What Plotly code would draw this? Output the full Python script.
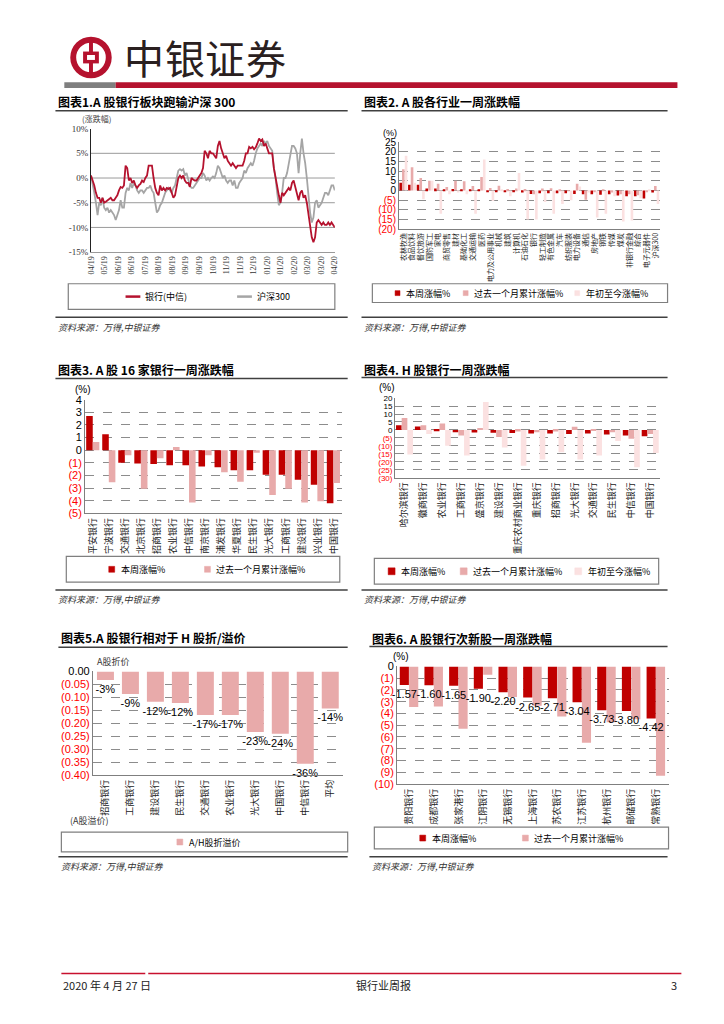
import plotly.graph_objects as go

# page is rendered with an 8px body margin; figure is sized to fit the 724x1024 window
OFF = 8
W, H = 708, 1008
def px(x): return (x - OFF) / W
def py(y): return 1 - (y - OFF) / H

# ---------------- data ----------------
c1_ticklabels = ["04/19","05/19","06/19","06/19","07/19","08/19","08/19","09/19","09/19","10/19",
                 "11/19","11/19","12/19","01/20","01/20","02/20","03/20","03/20","04/20"]
c1_bank = [0.5,-0.5,-1.5,-3,-4,-4,-5,-4,-5,-4.8,-4.5,-4.3,-4,-4.5,-4.5,-4,-3.5,-2.5,-1.8,-2,
           -1.5,2.5,2,-0.5,0,-1,-0.5,-1.5,-2,-1.5,-1.2,-0.5,-0.8,0,0.5,2.5,2.5,2.5,0,-2,
           -3,-3.5,-1.5,-2.5,-2,-2.5,-2,-2.2,-2,-3,-4,-3.5,-2,0,0.5,0,0.5,-0.5,-1,-1,
           -1.8,0,-0.3,-0.5,-0.5,0,0.5,1,2,5.5,5,4,5.5,5,5,4.5,4,6.5,7.5,6,
           5,4,4.5,3.5,3,2.5,3,2.5,2,2.5,2.5,2.5,2.5,3.5,5,5,6.3,6,6.3,5.8,
           6.2,7,8,7.5,7.8,6.5,7,6,5,5,5,2,0,-2,-3.5,-5,-3,-3.5,-3,-2.5,
           -2,-2.5,-1,-0.5,-2,-3,-4.5,-3,-2.5,-4,-3.5,-5,-7.5,-9,-12,-13,-12,-9,-8.5,-9,
           -9.5,-9,-9.5,-9.5,-9,-9.5,-9,-9.5,-10]
c1_hs300 = [0.5,-1,-3,-5,-7.5,-5,-5.5,-4,-6,-6.5,-6,-7,-6.5,-7,-7.5,-8.5,-7.5,-6.5,-4.5,-6,
            -6,-3,-2,-2.5,-1,-2,-1,-1.5,-2.5,-3,-2.5,-2.5,-3,-2.5,-2,-2,-1.5,-2.5,-3,-5,
            -7,-6.5,-5.5,-5,-4,-3,-2.5,-2,-2.5,-3,-2,-1.5,0,1.5,1.8,1.5,1.8,0.5,1,-0.5,
            -1.5,-2,-2,-1.5,-1,-0.5,0,0,1,0.5,-0.5,0,-0.5,0,0.3,0,1,2.5,2,1,
            0,0.5,-0.5,-1,-0.5,-0.5,-1.5,-0.5,-2,-2,-1,-0.5,0,1.5,1,2,2.5,3,2.5,3.5,
            5,6,6.5,7,6.5,7.5,7,7.5,6.5,6,5.5,2,0,-3,-5.5,-5,-3,0,0,1,
            3,5,6.5,6.5,6,5,1,5,8,5,3,0,-4,-7,-9,-8,-5,-4.5,-6,-5.5,
            -5,-4,-3,-3,-3.5,-2.5,-1.5,-1.5,-2.5]

c2_cats = ["农林牧渔","食品饮料","餐饮旅游","国防军工","家电","商贸零售","建材","基础化工","交通运输","医药",
           "电力及公用事业","机械","建筑","计算机","石油石化","银行","轻工制造","有色金属","汽车","纺织服装",
           "电力设备","通信","房地产","钢铁","传媒","煤炭","非银行金融","综合","电子元器件","沪深300"]
c2_week = [4.0,3.0,3.0,1.0,1.0,0.5,0.8,0.3,0.3,0.2,-0.5,-0.7,-0.8,-0.8,-1.0,-1.8,-1.5,-1.5,-1.5,-1.5,
           -1.8,-2.0,-2.0,-2.2,-2.0,-2.6,-3.0,-3.0,-4.2,-1.0]
c2_month = [11,12,6.5,5,3.5,1.8,5,4.8,2.3,7,1.3,2.5,0.8,1,0.8,-2,1,1.2,0.3,-0.3,
            3.5,-4.8,-0.5,0.3,-1,-2,-2,-2.5,-0.5,2.3]
c2_ytd = [18,4,-4.5,5,-12,-2,-1,-2,-12,16,-5.5,0.5,-3,9,-15,-15,-6,-12,-7,-5,
          2,-1,-14,-12,-3,-16,-15.5,-4,0.5,-7]

c3_cats = ["平安银行","宁波银行","交通银行","北京银行","招商银行","农业银行","中信银行","南京银行",
           "浦发银行","华夏银行","民生银行","光大银行","工商银行","建设银行","兴业银行","中国银行"]
c3_week = [2.7,1.25,-1.0,-1.05,-1.1,-1.2,-1.2,-1.3,-1.35,-1.6,-1.6,-1.95,-1.95,-2.35,-2.75,-4.2]
c3_month = [0.65,-2.55,-0.4,-3.05,-0.65,0.25,-4.15,-0.4,-1.75,-2.5,-0.2,-3.55,-3.05,-4.15,-4.05,-2.6]

c4_cats = ["哈尔滨银行","徽商银行","农业银行","工商银行","盛京银行","建设银行","重庆农村商业银行",
           "重庆银行","招商银行","光大银行","交通银行","民生银行","中信银行","中国银行"]
c4_week = [3.0,2.2,-0.8,-1.5,-1.6,-1.8,-1.9,-2.3,-2.3,-2.6,-2.3,-2.8,-3.5,-4.0]
c4_month = [7.5,3.0,4.0,-3.5,1.0,-4.5,-1.0,-1.5,-1.0,2.0,-0.5,-1.5,-5.5,-2.5]
c4_ytd = [-15.5,-2.5,-10,-16,17.5,-11,-22.5,-18.5,-14,-18.5,-16,-7,-23.5,-14.5]

c5_cats = ["招商银行","工商银行","建设银行","民生银行","交通银行","农业银行","光大银行","中国银行","中信银行","平均"]
c5_prem = [-0.033,-0.087,-0.117,-0.122,-0.168,-0.168,-0.234,-0.240,-0.356,-0.143]

c6_cats = ["贵阳银行","成都银行","张家港行","江阴银行","无锡银行","上海银行","苏农银行","江苏银行","杭州银行","邮储银行","常熟银行"]
c6_week = [-1.57,-1.60,-1.65,-1.90,-2.20,-2.65,-2.71,-3.04,-3.73,-3.80,-4.42]
c6_month = [-3.45,-3.4,-5.3,-0.7,-2.6,-3.35,-4.25,-6.5,-4.75,-4.5,-9.3]

# ---------------- style ----------------
RED = "#C00000"
PINK = "#E8AAAA"
LPINK = "#FBE1E1"
LRED = "#B5122E"
LGRAY = "#A5A5A5"
CJK = "Noto Sans CJK SC"
SANS = "Liberation Sans"
SERIF = "Liberation Serif"
NEG = "#FF0000"

def neg_label(v, fmt):
    if v < 0 and abs(v) > 1e-9:
        return '<span style="color:%s">(%s)</span>' % (NEG, fmt.format(-v))
    return fmt.format(abs(v))

fig = go.Figure()
shapes = []
annos = []

def text(x, y, s, size=10, color="black", anchor="left", font=CJK, yanchor="middle"):
    annos.append(dict(x=px(x), y=py(y), xref="paper", yref="paper", text=s, showarrow=False,
                      xanchor=anchor, yanchor=yanchor, font=dict(size=size, color=color, family=font)))

def hline(x0, x1, y, color="#404040", width=1.5):
    shapes.append(dict(type="line", xref="paper", yref="paper", x0=px(x0), x1=px(x1), y0=py(y), y1=py(y),
                       line=dict(color=color, width=width)))

def rect(x0, y0, x1, y1, fill=None, line="#8C8C8C", width=1):
    shapes.append(dict(type="rect", xref="paper", yref="paper", x0=px(x0), x1=px(x1), y0=py(y0), y1=py(y1),
                       fillcolor=fill if fill else "rgba(0,0,0,0)",
                       line=dict(color=line, width=width)))

def leg_sq(x, y, color, label, size=6):
    rect(x, y - size / 2, x + size, y + size / 2, fill=color, line=color, width=0.5)
    text(x + size + 4, y, label, size=9)

# ---------------- header ----------------
cx, cy, r = 88, 52, 21
shapes.append(dict(type="circle", xref="paper", yref="paper", x0=px(cx - r), x1=px(cx + r), y0=py(cy + r), y1=py(cy - r),
                   fillcolor=LRED, line=dict(width=0)))
r2 = 15
shapes.append(dict(type="circle", xref="paper", yref="paper", x0=px(cx - r2), x1=px(cx + r2), y0=py(cy + r2), y1=py(cy - r2),
                   fillcolor="white", line=dict(width=0)))
rect(cx - 2, cy - r + 2, cx + 2, cy + r - 2, fill=LRED, line=LRED, width=0)
rect(cx - 8, cy - 6, cx + 8, cy + 6, fill=LRED, line=LRED, width=0)
rect(cx - 4, cy - 2.5, cx + 4, cy + 2.5, fill="white", line="white", width=0)
for i, ch in enumerate("中银证券"):
    text(142 + i * 41, 52, ch, size=40, color="#2A2020", anchor="center")
rect(61, 77, 113, 83, fill="#7F7F7F", line="#7F7F7F", width=0)
rect(113, 77, 682, 83, fill=LRED, line=LRED, width=0)

# ---------------- titles / sources ----------------
def block(x0, x1, ty, uy, sy, title):
    text(x0 + 1, ty, "<b>" + title + "</b>", size=12)
    hline(x0, x1, uy, color="#404040", width=1.5)
    hline(x0, x1, sy, color="#404040", width=1.5)
    text(x0 + 1, sy + 10, "<i>资料来源：万得,中银证券</i>", size=9, color="#333333")

block(52, 348, 97, 106, 315, "图表1.A 股银行板块跑输沪深 300")
block(362, 672, 97, 106, 315, "图表2. A 股各行业一周涨跌幅")
block(52, 348, 368, 377, 591, "图表3. A 股 16 家银行一周涨跌幅")
block(362, 672, 368, 376, 591, "图表4. H 股银行一周涨跌幅")
block(55, 348, 639, 649, 861, "图表5.A 股银行相对于 H 股折/溢价")
block(370, 672, 640, 648, 861, "图表6. A 股银行次新股一周涨跌幅")

# footer
hline(58, 143, 979, color="#C8102E", width=1.5)
hline(146, 686, 979, color="#C8102E", width=1.5)
text(58, 991, "2020 年 4 月 27 日", size=11, color="#222222")
text(384, 991, "银行业周报", size=11, color="#222222", anchor="center")
text(684, 991, "3", size=11, color="#222222", anchor="right")

# ---------------- chart 1 ----------------
n1 = len(c1_bank)
fig.add_trace(go.Scatter(x=list(range(len(c1_hs300))), y=c1_hs300, mode="lines", line=dict(color=LGRAY, width=1.8),
                         xaxis="x", yaxis="y", showlegend=False))
fig.add_trace(go.Scatter(x=list(range(n1)), y=c1_bank, mode="lines", line=dict(color=LRED, width=1.8),
                         xaxis="x", yaxis="y", showlegend=False))
for v in [5, 0, -5, -10]:
    shapes.append(dict(type="line", xref="x domain", yref="y", x0=0, x1=1, y0=v, y1=v,
                       line=dict(color="#9A9A9A", width=1), layer="below"))
text(77, 114, "(涨跌幅)", size=8, color="#444444")
rect(65, 281, 335, 307, line="#7F7F7F", width=1.2)
hline(123, 138, 294, color=LRED, width=2.5)
text(141, 294, "银行(中信)", size=9)
hline(236, 251, 294, color=LGRAY, width=2.5)
text(254, 294, "沪深300", size=9)

c1_tickvals = [i * (n1 - 1) / (len(c1_ticklabels) - 1) for i in range(len(c1_ticklabels))]

# ---------------- chart 2 ----------------
for vals, col, off in [(c2_week, RED, -0.46), (c2_month, PINK, -0.15), (c2_ytd, LPINK, 0.16)]:
    fig.add_trace(go.Bar(x=c2_cats, y=vals, marker=dict(color=col, line=dict(width=0)), width=0.3, offset=off,
                         xaxis="x2", yaxis="y2", showlegend=False))
text(382, 128, "(%)", size=9, font=SANS)
rect(373, 281, 672, 300, line="#7F7F7F", width=1.2)
leg_sq(396, 290.5, RED, "本周涨幅%", size=5)
leg_sq(465, 290.5, PINK, "过去一个月累计涨幅%", size=5)
leg_sq(578, 290.5, LPINK, "年初至今涨幅%", size=5)

# ---------------- chart 3 ----------------
fig.add_trace(go.Bar(x=c3_cats, y=c3_week, marker=dict(color=RED, line=dict(width=0)), width=0.41, offset=-0.43,
                     xaxis="x3", yaxis="y3", showlegend=False))
fig.add_trace(go.Bar(x=c3_cats, y=c3_month, marker=dict(color=PINK, line=dict(width=0)), width=0.41, offset=-0.02,
                     xaxis="x3", yaxis="y3", showlegend=False))
text(70, 388, "(%)", size=10, font=SANS)
rect(63, 557, 340, 583, line="#7F7F7F", width=1.2)
leg_sq(106, 570, RED, "本周涨幅%")
leg_sq(203, 570, PINK, "过去一个月累计涨幅%")

# ---------------- chart 4 ----------------
for vals, col, off in [(c4_week, RED, -0.45), (c4_month, PINK, -0.15), (c4_ytd, LPINK, 0.15)]:
    fig.add_trace(go.Bar(x=c4_cats, y=vals, marker=dict(color=col, line=dict(width=0)), width=0.3, offset=off,
                         xaxis="x4", yaxis="y4", showlegend=False))
text(378, 386, "(%)", size=10, font=SANS)
rect(375, 559, 663, 585, line="#7F7F7F", width=1.2)
leg_sq(389, 572, RED, "本周涨幅%", size=7)
leg_sq(462, 572, PINK, "过去一个月累计涨幅%", size=7)
leg_sq(578, 572, LPINK, "年初至今涨幅%", size=7)

# ---------------- chart 5 ----------------
fig.add_trace(go.Bar(x=c5_cats, y=c5_prem, marker=dict(color=PINK, line=dict(width=0)), width=0.68, offset=-0.34,
                     text=["%d%%" % round(v * 100) for v in c5_prem], textposition="outside",
                     constraintext="none",
                     textfont=dict(size=11, color="black", family=SANS), cliponaxis=False,
                     xaxis="x5", yaxis="y5", showlegend=False))
text(92, 663, "A股折价", size=9, color="#333333")
text(65, 824, "(A股溢价)", size=9, color="#333333")
rect(58, 836, 348, 856, line="#7F7F7F", width=1.2)
leg_sq(175, 846, PINK, "A/H股折溢价")

# ---------------- chart 6 ----------------
fig.add_trace(go.Bar(x=c6_cats, y=c6_month, marker=dict(color=PINK, line=dict(width=0)), width=0.37, offset=-0.01,
                     xaxis="x6", yaxis="y6", showlegend=False))
fig.add_trace(go.Bar(x=c6_cats, y=c6_week, marker=dict(color=RED, line=dict(width=0)), width=0.37, offset=-0.39,
                     text=["%.2f" % v for v in c6_week], textposition="outside", constraintext="none",
                     textfont=dict(size=11, color="black", family=SANS), cliponaxis=False,
                     xaxis="x6", yaxis="y6", showlegend=False))
text(392, 658, "(%)", size=10, font=SANS)
rect(375, 831, 673, 853, line="#7F7F7F", width=1.2)
leg_sq(421, 842, RED, "本周涨幅%")
leg_sq(525, 842, PINK, "过去一个月累计涨幅%")

# ---------------- axes ----------------
def dom_x(a, b): return [px(a), px(b)]
def dom_y(top, bottom): return [py(bottom), py(top)]

def cat_x(domain, anchor, cats, size=10):
    return dict(domain=domain, anchor=anchor, type="category", showgrid=False, showline=True,
                linecolor="#7F7F7F", linewidth=1, ticks="", tickangle=-90,
                tickmode="array", tickvals=cats, ticktext=cats,
                tickfont=dict(size=size, family=CJK, color="#222222"), fixedrange=True)

def val_y(domain, anchor, rng, tickvals, ticktext, size=11):
    return dict(domain=domain, anchor=anchor, range=rng, tickvals=tickvals, ticktext=ticktext,
                showgrid=True, gridcolor="#8C8C8C", griddash="dash", gridwidth=1, zeroline=False,
                showline=True, linecolor="#7F7F7F", linewidth=1, ticks="",
                tickfont=dict(size=size, family=SANS, color="black"), fixedrange=True)

t2 = list(range(25, -21, -5))
t3 = list(range(4, -6, -1))
t4 = list(range(20, -31, -5))
t5 = [round(-0.05 * i, 2) for i in range(9)]
t6 = list(range(0, -11, -1))

fig.update_layout(
    width=W, height=H, margin=dict(l=0, r=0, t=0, b=0),
    paper_bgcolor="white", plot_bgcolor="white", showlegend=False,
    barmode="overlay",
    xaxis=dict(domain=dom_x(88, 335), anchor="y", range=[0, n1 - 1], tickvals=c1_tickvals, ticktext=c1_ticklabels,
               tickangle=-90, showgrid=False, showline=True, linecolor="#9A9A9A", ticks="",
               tickfont=dict(size=8, family=SERIF, color="#333333"), zeroline=False, fixedrange=True),
    yaxis=dict(domain=dom_y(124, 249), anchor="x", range=[-15, 10], tickvals=[10, 5, 0, -5, -10, -15],
               ticktext=["10%", "5%", "0%", "-5%", "-10%", "-15%"], showgrid=False, zeroline=False,
               showline=True, linecolor="#222222", ticks="",
               tickfont=dict(size=9, family=SERIF, color="#333333"), fixedrange=True),
    xaxis2=cat_x(dom_x(400, 664), "y2", c2_cats, size=7),
    yaxis2=val_y(dom_y(137.7, 225.7), "x2", [-20, 25], t2, [neg_label(v, "{:d}") for v in t2], size=10),
    xaxis3=cat_x(dom_x(82, 342), "y3", c3_cats, size=9),
    yaxis3=val_y(dom_y(398.3, 513.3), "x3", [-5, 4], t3, [neg_label(v, "{:d}") for v in t3], size=11),
    xaxis4=cat_x(dom_x(396, 664), "y4", c4_cats, size=9),
    yaxis4=val_y(dom_y(396.7, 477.3), "x4", [-30, 20], t4, [neg_label(v, "{:d}") for v in t4], size=8),
    xaxis5=cat_x(dom_x(90, 343), "y5", c5_cats, size=9),
    yaxis5=val_y(dom_y(673.3, 778.3), "x5", [-0.40, 0], t5, [neg_label(v, "{:.2f}") for v in t5], size=11),
    xaxis6=cat_x(dom_x(398, 673), "y6", c6_cats, size=9),
    yaxis6=val_y(dom_y(668.3, 787.3), "x6", [-10, 0], t6, [neg_label(v, "{:d}") for v in t6], size=11),
    shapes=shapes, annotations=annos,
)
fig.write_html("out.html")
